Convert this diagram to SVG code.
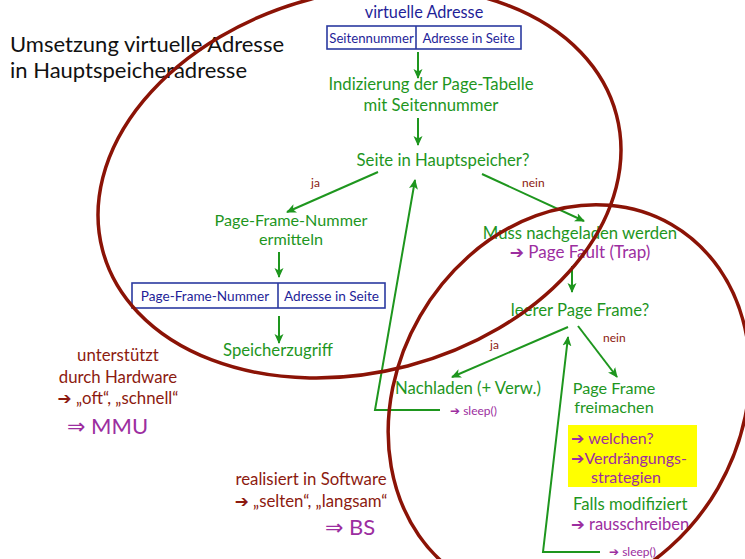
<svg xmlns="http://www.w3.org/2000/svg" width="745" height="559" viewBox="0 0 745 559">
<defs>
<marker id="ah" viewBox="0 0 10 10" refX="9" refY="5" markerWidth="10" markerHeight="10" orient="auto" markerUnits="userSpaceOnUse">
<path d="M0,0.5 L10,5 L0,9.5 L2.5,5 Z" fill="#1e961e"/>
</marker>
<style>
text{font-family:Lato,"DejaVu Sans",sans-serif}
.g{fill:#1e961e;font-size:16.7px}
.t{font-size:16.2px}
.b{fill:#1f1f99}
.r{fill:#8c1a0f;font-size:16.8px}
.p{fill:#9c2ea0}
.s{font-size:12px}
.c{text-anchor:middle}
.box{fill:none;stroke:#2b3aa0;stroke-width:1.6}
.ln{fill:none;stroke:#1e961e;stroke-width:2}
.el{fill:none;stroke:#8b1306;stroke-width:3.5}
</style>
</defs>
<rect width="745" height="559" fill="#fff"/>
<g id="title">
<text x="10" y="52" font-size="22" fill="#111">Umsetzung virtuelle Adresse</text>
<text x="10" y="78" font-size="22" fill="#111">in Hauptspeicheradresse</text>
</g>
<g id="virt">
<text class="b c" x="424" y="18" font-size="16.3">virtuelle Adresse</text>
<rect class="box" x="327" y="26" width="194" height="23"/>
<line class="box" x1="416" y1="26" x2="416" y2="49"/>
<text class="b c" x="371.5" y="42.5" font-size="13.2">Seitennummer</text>
<text class="b c" x="468.5" y="42.5" font-size="13.2">Adresse in Seite</text>
</g>
<g id="index">
<text class="g c" x="431" y="90">Indizierung der Page-Tabelle</text>
<text class="g c" x="431" y="111">mit Seitennummer</text>
</g>
<g id="seite">
<text class="g c" x="443" y="166">Seite in Hauptspeicher?</text>
</g>
<g id="pfn">
<text class="g c t" x="291" y="226">Page-Frame-Nummer</text>
<text class="g c t" x="291" y="245">ermitteln</text>
</g>
<g id="phys">
<rect class="box" x="132" y="283" width="253" height="25"/>
<line class="box" x1="278" y1="283" x2="278" y2="308"/>
<text class="b c" x="205" y="300.5" font-size="13.6">Page-Frame-Nummer</text>
<text class="b c" x="331.5" y="300.5" font-size="13.6">Adresse in Seite</text>
</g>
<g id="zugriff">
<text class="g c" x="278" y="356">Speicherzugriff</text>
</g>
<g id="muss">
<text class="g c" x="580" y="239">Muss nachgeladen werden</text>
<text class="p c" x="580" y="258" font-size="17">➔ Page Fault (Trap)</text>
</g>
<g id="leer">
<text class="g c" x="580" y="316">leerer Page Frame?</text>
</g>
<g id="nachladen">
<text class="g c" x="468" y="394">Nachladen (+ Verw.)</text>
<text class="p s" x="450" y="415">➔ sleep()</text>
</g>
<g id="frei">
<text class="g c t" x="614" y="394">Page Frame</text>
<text class="g c t" x="614" y="413">freimachen</text>
<rect x="568" y="425" width="129" height="62" fill="#ffff00"/>
<text class="p" x="571" y="444" font-size="16">➔ welchen?</text>
<text class="p" x="571" y="464" font-size="16">➔Verdrängungs-</text>
<text class="p" x="591" y="483" font-size="16">strategien</text>
<text class="g" x="573" y="510">Falls modifiziert</text>
<text class="p" x="571" y="530" font-size="16.5">➔ rausschreiben</text>
<text class="p s" x="609" y="556">➔ sleep()</text>
</g>
<g id="hw">
<text class="r c" x="118" y="361">unterstützt</text>
<text class="r c" x="118" y="383">durch Hardware</text>
<text class="r c" x="118" y="404">➔ „oft“, „schnell“</text>
<text class="p" x="67" y="434" font-size="22">⇒ MMU</text>
</g>
<g id="sw">
<text class="r c" x="311" y="485">realisiert in Software</text>
<text class="r c" x="311" y="507">➔ „selten“, „langsam“</text>
<text class="p" x="325" y="535" font-size="22">⇒ BS</text>
</g>
<g id="labels">
<text class="r s" x="311" y="187">ja</text>
<text class="r s" x="522" y="187">nein</text>
<text class="r s" x="490" y="349">ja</text>
<text class="r s" x="603" y="342">nein</text>
</g>
<g id="connectors">
<line class="ln" x1="418" y1="52" x2="418" y2="78" marker-end="url(#ah)"/>
<line class="ln" x1="418" y1="118" x2="418" y2="145" marker-end="url(#ah)"/>
<line class="ln" x1="378" y1="172" x2="287" y2="212" marker-end="url(#ah)"/>
<line class="ln" x1="482" y1="174" x2="584" y2="221" marker-end="url(#ah)"/>
<line class="ln" x1="279" y1="252" x2="279" y2="277" marker-end="url(#ah)"/>
<line class="ln" x1="279" y1="316" x2="279" y2="343" marker-end="url(#ah)"/>
<line class="ln" x1="572" y1="266" x2="572" y2="292" marker-end="url(#ah)"/>
<line class="ln" x1="568" y1="327" x2="452" y2="377" marker-end="url(#ah)"/>
<line class="ln" x1="578" y1="326" x2="617" y2="377" marker-end="url(#ah)"/>
<polyline class="ln" points="440,410 375,410 415,180" marker-end="url(#ah)"/>
<polyline class="ln" points="600,552 543,552 568,337" marker-end="url(#ah)"/>
</g>
<g id="ellipses">
<ellipse class="el" cx="359.5" cy="182.5" rx="265.7" ry="189.7" transform="rotate(-14.7 359.5 182.5)"/>
<ellipse class="el" cx="569" cy="402" rx="172" ry="205" transform="rotate(30 569 402)"/>
</g>
</svg>
